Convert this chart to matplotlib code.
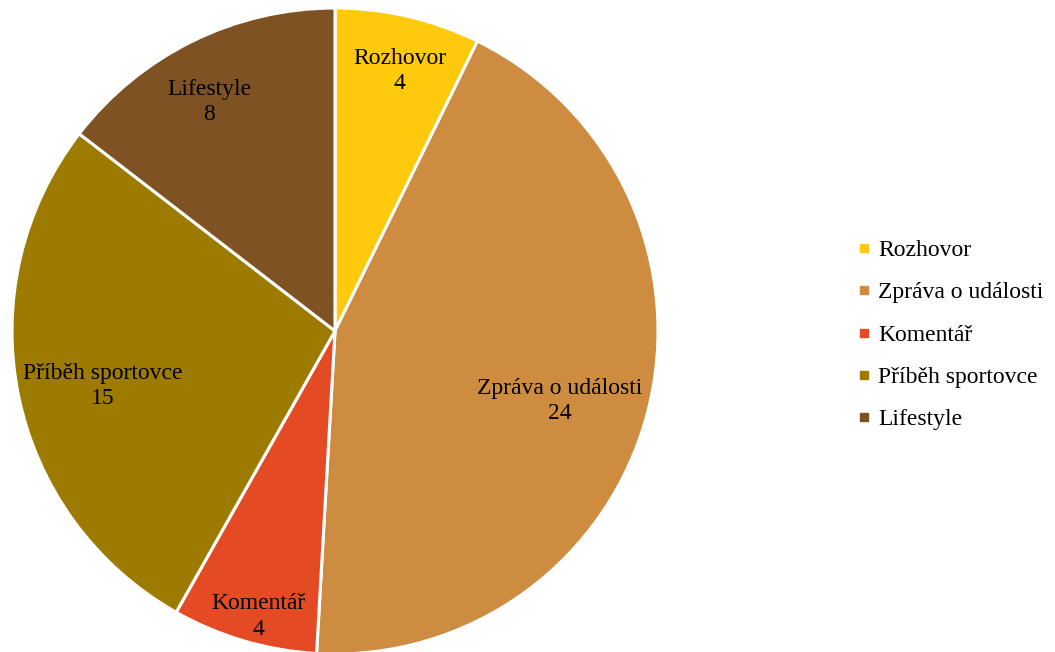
import matplotlib
matplotlib.use("Agg")
import matplotlib.pyplot as plt
from matplotlib.lines import Line2D

plt.rcParams['font.family'] = ['Liberation Serif', 'DejaVu Serif']

categories = ['Rozhovor', 'Zpráva o události', 'Komentář', 'Příběh sportovce', 'Lifestyle']
values = [4, 24, 4, 15, 8]
colors = ['#FFC90C', '#CD8C3F', '#E44B25', '#9D7B00', '#7E5222']

# label placement (pie radius units)
label_xy = [(0.201, 0.805), (0.697, -0.217), (-0.238, -0.885), (-0.718, -0.170), (-0.390, 0.709)]

W, H = 1055, 652
cx, cy, r = 335, 331, 323

fig = plt.figure(figsize=(W / 100, H / 100), dpi=100)
ax = fig.add_axes([(cx - r) / W, (H - cy - r) / H, 2 * r / W, 2 * r / H])

wedges, _ = ax.pie(values, colors=colors, startangle=90, counterclock=False,
                   radius=1, wedgeprops=dict(edgecolor='white', linewidth=2.2))
ax.set_aspect('auto')
ax.set_xlim(-1, 1)
ax.set_ylim(-1, 1)
ax.axis('off')
for w in wedges:
    w.set_clip_on(False)

for cat, v, (lx, ly) in zip(categories, values, label_xy):
    ax.text(lx, ly, f'{cat}\n{v}', ha='center', va='center',
            fontsize=17, linespacing=1.3, color='black')

handles = [Line2D([], [], marker='s', linestyle='none', markersize=6,
                  markerfacecolor=c, markeredgecolor=c) for c in colors]
fig.legend(handles, categories, loc='center left', bbox_to_anchor=(845 / W, 1 - 335 / H),
           frameon=False, fontsize=17, handlelength=0.6, handletextpad=0.3,
           labelspacing=0.88, borderpad=0)

fig.savefig('out.png', dpi=100)
